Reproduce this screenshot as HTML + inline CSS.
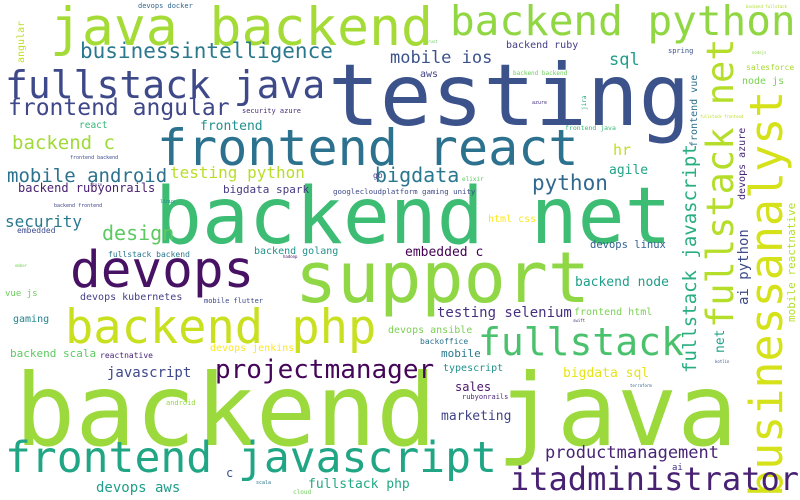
<!DOCTYPE html>
<html><head><meta charset="utf-8"><style>
html,body{margin:0;padding:0;background:#fff;width:800px;height:500px;overflow:hidden}
svg text{font-family:"DejaVu Sans Mono","Liberation Mono",monospace}
</style></head><body>
<svg id="cloud" width="800" height="500" xmlns="http://www.w3.org/2000/svg">
<rect width="800" height="500" fill="#fff"/>
</svg>
<script>
// word, x, baseline y, font size, color, vertical(1)
const words = ["backend java","testing","backend net","support","java backend","backend python","fullstack java","frontend angular","businessintelligence","frontend react","businessanalyst","fullstack net","fullstack javascript","frontend javascript","itadministrator","devops","backend php","fullstack","projectmanager","productmanagement","mobile android","testing python","backend c","security","design","backend rubyonrails","bigdata spark","embedded","react","frontend","security azure","angular","devops docker","frontend backend","mobile ios","backend ruby","sql","aws","backend backend","spring","salesforce","node js","backend fullstack","nodejs","rust","frontend vue","devops azure","jira","fullstack frontend","azure","frontend java","hr","agile","python","bigdata","elixir","googlecloudplatform gaming unity","html css","go","linux","backend frontend","azure","net","ai python","mobile reactnative","devops linux","embedded c","backend node","testing selenium","frontend html","swift","devops ansible","backoffice","mobile","typescript","bigdata sql","sales","rubyonrails","marketing","ai","kotlin","terraform","fullstack backend","backend golang","hadoop","ember","vue js","devops kubernetes","mobile flutter","gaming","devops jenkins","backend scala","reactnative","javascript","android","c","fullstack php","devops aws","scala","cloud"];
const xs = [15,328,155,295,50,450,5,8,80,157,782,733,696,5,510,70,65,478,215,545,7,170,12,5,102,18,223,17,79,200,242,24,138,70,390,506,609,420,513,668,746,742,746,752,428,697,745,586,700,532,565,613,609,532,375,462,333,488,373,160,54,90,724,748,795,590,405,575,437,574,573,388,420,441,443,563,455,462,441,672,715,630,108,254,283,15,5,80,204,13,210,10,100,107,166,226,308,96,256,293];
const ys = [445,125,243,302,45,35,98,115,58,165,497,328,373,472,490,287,343,355,378,458,182,178,149,227,240,192,193,233,128,130,113,63,8,159,63,48,65,77,75,53,70,84,8,54,43,147,200,110,118,104,130,155,174,190,182,181,194,222,178,203,207,186,353,305,322,248,256,286,317,315,322,333,344,357,371,377,391,399,420,470,363,387,257,254,258,267,296,300,303,322,351,357,358,377,405,477,488,492,484,494];
const sizes = [100,86,78,70,53,41,38,23,21,50,45,37,19,43,32,51,47,38,26,17,19,16,19,16,20,12,11,8,9.5,13,7,10,7,5,17,10,17,10,6,7,8,10,4,4,4,10,10,6,4,5,6.5,15,13,21,20,6,7.4,10,8,5,5,4,13,14,11,10.5,13,13,14,10,4,10,8,11,10,13,12,7,13,9,4,4,8,10,4,4,9,10,7,10,10,11,8,14,7,12,13,14,5,6];
const colors = ["#9bd93c","#3b528b","#3dbc74","#8fd744","#a5db36","#90d743","#3e4989","#3f4788","#2a788e","#2c728e","#d5e21a","#b5de2b","#29af7f","#21a685","#482173","#471164","#c8e020","#4ac16d","#450559","#482475","#2c728e","#b8de29","#a0da39","#2a788e","#5ec962","#481f70","#443a83","#3e4c8a","#35b779","#21918c","#472d7b","#bddf26","#31688e","#3e4a89","#3b528b","#433e85","#1f9e89","#414487","#6ccd5a","#3b528b","#a8db34","#7ad151","#b0dd2f","#8bd646","#65cb5e","#2c718e","#482677","#24aa83","#bade28","#46327e","#38b977","#bddf26","#20a386","#31688e","#2a778e","#5ec962","#3e4989","#fde725","#433e85","#21918c","#404688","#46307e","#20a386","#3e4c8a","#b5de2b","#33638d","#440154","#1f9e89","#46307e","#7ad151","#482878","#7ad151","#2c728e","#2a788e","#21918c","#e5e419","#481668","#482878","#414487","#453581","#3b528b","#355f8d","#2a788e","#21918c","#460b5e","#75d054","#6ccd5a","#433e85","#3e4989","#25858e","#fde725","#5ec962","#482878","#3e4989","#95d840","#3b528b","#22a884","#1f9e89","#2c728e","#6ccd5a"];
const vertical = [0,0,0,0,0,0,0,0,0,0,1,1,1,0,0,0,0,0,0,0,0,0,0,0,0,0,0,0,0,0,0,1,0,0,0,0,0,0,0,0,0,0,0,0,0,1,1,1,0,0,0,0,0,0,0,0,0,0,0,0,0,0,1,1,1,0,0,0,0,0,0,0,0,0,0,0,0,0,0,0,0,0,0,0,0,0,0,0,0,0,0,0,0,0,0,0,0,0,0,0];
const svg = document.getElementById('cloud');
const NS = 'http://www.w3.org/2000/svg';
words.forEach((w, i) => {
  const t = document.createElementNS(NS, 'text');
  t.setAttribute('x', xs[i]);
  t.setAttribute('y', ys[i]);
  t.setAttribute('font-size', sizes[i]);
  t.setAttribute('fill', colors[i]);
  if (vertical[i]) t.setAttribute('transform', 'rotate(-90 ' + xs[i] + ' ' + ys[i] + ')');
  t.textContent = w;
  
  
  svg.appendChild(t);
});
</script>
</body></html>
